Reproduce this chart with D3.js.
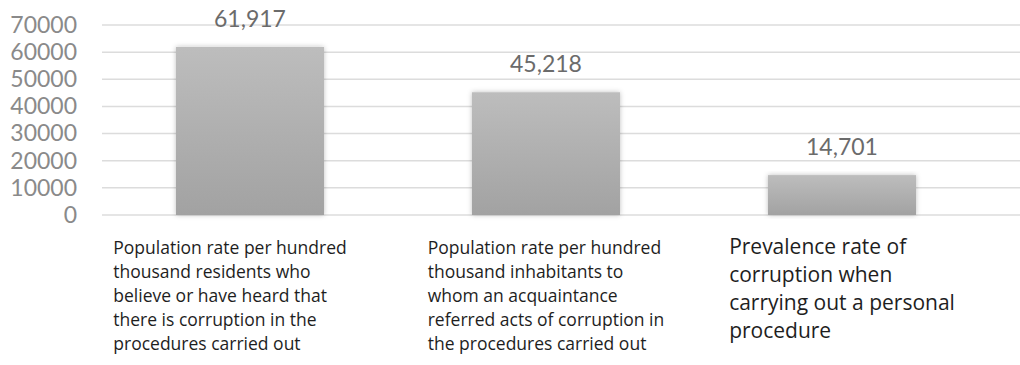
<!DOCTYPE html>
<html>
<head>
<meta charset="utf-8">
<script src="https://cdn.jsdelivr.net/npm/d3@7"></script>
<style>
  body { margin: 0; background: #fff; }
  svg { display: block; }
</style>
</head>
<body>
<svg id="chart" width="1020" height="365"></svg>
<script>
const categories = [
  ["Population rate per hundred", "thousand residents who", "believe or have heard that", "there is corruption in the", "procedures carried out"],
  ["Population rate per hundred", "thousand inhabitants to", "whom an acquaintance", "referred acts of corruption in", "the procedures carried out"],
  ["Prevalence rate of", "corruption when", "carrying out a personal", "procedure"]
];
const values = [61917, 45218, 14701];
const valueLabels = ["61,917", "45,218", "14,701"];
const yTicks = [0, 10000, 20000, 30000, 40000, 50000, 60000, 70000];

const svg = d3.select("#chart");
const plotLeft = 102, plotRight = 990, gridRight = 1020;
const plotTop = 25, plotBottom = 215;

const x = d3.scaleBand()
  .domain(d3.range(values.length))
  .range([plotLeft, plotRight])
  .paddingInner(0.5)
  .paddingOuter(0.25);

const y = d3.scaleLinear().domain([0, 70000]).range([plotBottom, plotTop]);

const defs = svg.append("defs");
const grad = defs.append("linearGradient")
  .attr("id", "barGrad").attr("x1", 0).attr("y1", 0).attr("x2", 0).attr("y2", 1);
grad.append("stop").attr("offset", "0%").attr("stop-color", "#bdbdbd");
grad.append("stop").attr("offset", "100%").attr("stop-color", "#a2a2a2");

const shadow = defs.append("filter").attr("id", "soft")
  .attr("x", "-10%").attr("y", "-10%").attr("width", "120%").attr("height", "120%");
shadow.append("feDropShadow")
  .attr("dx", 0).attr("dy", 0).attr("stdDeviation", 2.5)
  .attr("flood-color", "#000").attr("flood-opacity", 0.25);

// gridlines
svg.append("g")
  .selectAll("line")
  .data(yTicks)
  .join("line")
  .attr("x1", plotLeft)
  .attr("x2", gridRight)
  .attr("y1", d => y(d))
  .attr("y2", d => y(d))
  .attr("stroke", "#dcdcdc")
  .attr("stroke-width", 1.5);

// y axis labels
const yAxis = svg.append("g")
  .attr("transform", `translate(${plotLeft - 25},0)`)
  .call(d3.axisLeft(y).tickValues(yTicks).tickFormat(d3.format("d")).tickSize(0).tickPadding(0));
yAxis.select(".domain").remove();
yAxis.selectAll("text")
  .attr("font-family", "Lato, 'Open Sans', sans-serif")
  .attr("font-size", 23)
  .attr("fill", "#8a8a8a");

// bars
svg.append("g")
  .selectAll("rect")
  .data(values)
  .join("rect")
  .attr("x", (d, i) => x(i))
  .attr("y", d => y(d))
  .attr("width", x.bandwidth())
  .attr("height", d => y(0) - y(d))
  .attr("fill", "url(#barGrad)")
  .attr("filter", "url(#soft)");

// value labels
svg.append("g")
  .selectAll("text")
  .data(values)
  .join("text")
  .attr("x", (d, i) => x(i) + x.bandwidth() / 2)
  .attr("y", d => y(d) - 20)
  .attr("text-anchor", "middle")
  .attr("font-family", "Lato, 'Open Sans', sans-serif")
  .attr("font-size", 23)
  .attr("fill", "#6b6b6b")
  .text((d, i) => valueLabels[i]);

// category labels
const catG = svg.append("g")
  .selectAll("text")
  .data(categories)
  .join("text")
  .attr("font-family", "'Open Sans', sans-serif")
  .attr("font-size", (d, i) => i === 2 ? 21 : 17.5)
  .attr("fill", "#1e1e1e");

catG.each(function(lines, i) {
  const t = d3.select(this);
  const lh = i === 2 ? 28 : 24;
  lines.forEach((line, j) => {
    t.append("tspan").attr("y", 254 + j * lh).text(line);
  });
  let maxW = 0;
  t.selectAll("tspan").each(function() { maxW = Math.max(maxW, this.getComputedTextLength()); });
  const cx = x(i) + x.bandwidth() / 2 - (i === 0 ? 20 : 0);
  t.selectAll("tspan").attr("x", cx - maxW / 2);
});
</script>
</body>
</html>
